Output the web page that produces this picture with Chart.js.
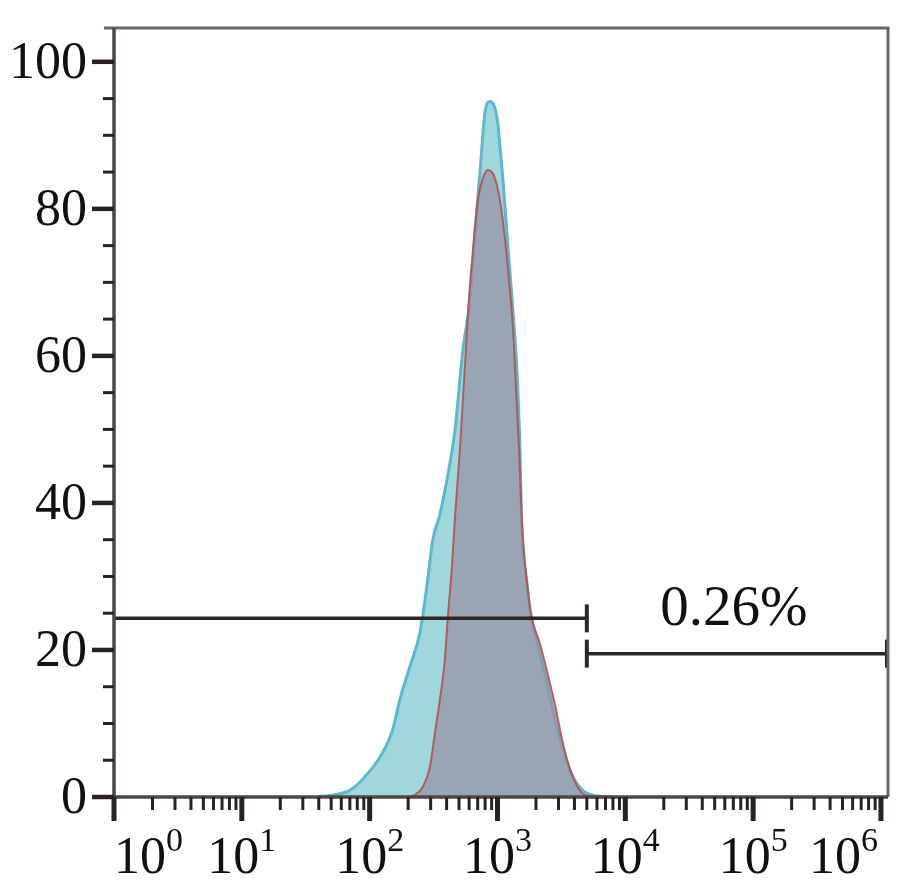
<!DOCTYPE html>
<html>
<head>
<meta charset="utf-8">
<script src="https://cdn.jsdelivr.net/npm/chart.js@4.4.1/dist/chart.umd.min.js"></script>
<style>
  html, body { margin: 0; padding: 0; background: #fff; }
</style>
</head>
<body>
<canvas id="histChart" width="916" height="888"></canvas>
<script>
// Histogram data (fluorescence intensity vs. count)
const cyanIntensity = [39, 53, 70, 87, 126, 151, 172, 206, 247, 280, 312, 354, 409, 465, 536, 608, 678, 729, 755, 798, 873, 955, 1009, 1047, 1104, 1208, 1324, 1422, 1500, 1528, 1556, 1702, 1799, 2004, 2443, 2825, 3266, 3908, 5035, 7621];
const cyanCount = [0, 0.3, 0.9, 2.3, 6.0, 9.1, 13.2, 17.7, 22.3, 28.6, 35.0, 38.4, 43.8, 49.9, 60.8, 67.6, 78.5, 84.9, 88.4, 93.1, 94.6, 93.7, 91.4, 88.4, 83.9, 74.8, 65.9, 57.7, 47.2, 40.4, 35.9, 29.1, 25.4, 21.6, 15.5, 10.5, 6.4, 2.7, 0.5, 0];

const redIntensity = [199, 225, 261, 296, 324, 354, 387, 409, 440, 465, 508, 536, 566, 597, 643, 703, 769, 841, 939, 1028, 1125, 1231, 1324, 1397, 1476, 1528, 1585, 1702, 1832, 2153, 2489, 2825, 3148, 3511, 3981, 4688, 5715];
const redCount = [0, 0.3, 1.4, 4.1, 8.7, 13.2, 18.6, 24.5, 31.3, 38.1, 47.2, 54.0, 60.8, 67.6, 74.4, 81.2, 84.2, 85.3, 84.5, 81.9, 77.1, 70.3, 63.5, 55.4, 47.2, 40.4, 35.0, 29.1, 24.8, 20.8, 16.5, 12.5, 8.4, 5.0, 2.3, 0.4, 0];

// Axes
const xMin = 1;
const xMax = 1135000;
const yMin = 0;
const yMax = 104.6;
const yTickValues = [0, 20, 40, 60, 80, 100];
const yMinorStep = 5;
const xDecades = [0, 1, 2, 3, 4, 5, 6];

// Gate markers
const gateStart = 1;
const gateSplit = 5000;
const gateEnd = 1114000;
const leftGateLevel = 24.3;
const rightGateLevel = 19.5;
const gateLabel = "0.26%";

const SERIF = '"Liberation Serif", "Times New Roman", serif';

function toPoints(xs, ys) {
  return xs.map((x, i) => ({ x: x, y: ys[i] }));
}

// Axes, ticks, frame and labels
const cytoAxes = {
  id: "cytoAxes",
  afterDatasetsDraw(chart) {
    const { ctx, chartArea: a } = chart;
    const x = chart.scales.x;
    const y = chart.scales.y;
    ctx.save();

    // top and right frame
    ctx.strokeStyle = "#6d6565";
    ctx.lineWidth = 3;
    ctx.beginPath();
    ctx.moveTo(a.left - 10, a.top);
    ctx.lineTo(a.right, a.top);
    ctx.lineTo(a.right, a.bottom);
    ctx.stroke();

    // left and bottom axes
    ctx.strokeStyle = "#4f4646";
    ctx.lineWidth = 3.5;
    ctx.beginPath();
    ctx.moveTo(a.left, a.top);
    ctx.lineTo(a.left, a.bottom);
    ctx.lineTo(a.right, a.bottom);
    ctx.stroke();

    ctx.strokeStyle = "#2a2222";

    // y minor ticks
    ctx.lineWidth = 3;
    for (let v = yMinorStep; v < yMax; v += yMinorStep) {
      if (v % 20 === 0) continue;
      const py = y.getPixelForValue(v);
      ctx.beginPath();
      ctx.moveTo(a.left - 11, py);
      ctx.lineTo(a.left, py);
      ctx.stroke();
    }
    // y major ticks + labels
    ctx.lineWidth = 4.5;
    ctx.fillStyle = "#111";
    ctx.font = "52px " + SERIF;
    ctx.textAlign = "right";
    ctx.textBaseline = "alphabetic";
    yTickValues.forEach((v) => {
      const py = y.getPixelForValue(v);
      ctx.beginPath();
      ctx.moveTo(a.left - 22, py);
      ctx.lineTo(a.left, py);
      ctx.stroke();
      ctx.fillText(String(v), a.left - 27, py + 16);
    });

    // x minor ticks
    ctx.lineWidth = 3;
    xDecades.forEach((k) => {
      for (let m = 2; m <= 9; m++) {
        const v = m * Math.pow(10, k);
        if (v > xMax) break;
        const px = x.getPixelForValue(v);
        ctx.beginPath();
        ctx.moveTo(px, a.bottom);
        ctx.lineTo(px, a.bottom + 13);
        ctx.stroke();
      }
    });
    // x major ticks + labels 10^k
    ctx.lineWidth = 5;
    ctx.textAlign = "left";
    xDecades.forEach((k) => {
      const px = x.getPixelForValue(Math.pow(10, k));
      ctx.beginPath();
      ctx.moveTo(px, a.bottom);
      ctx.lineTo(px, a.bottom + 24);
      ctx.stroke();

      ctx.font = "52px " + SERIF;
      const baseW = ctx.measureText("10").width;
      ctx.font = "34px " + SERIF;
      const supW = ctx.measureText(String(k)).width;
      const w = baseW + supW;
      let cx = px;
      cx = Math.max(cx, a.left + w / 2);
      cx = Math.min(cx, a.right - 10 - w / 2);
      const left = cx - w / 2;
      ctx.font = "52px " + SERIF;
      ctx.fillText("10", left, a.bottom + 76);
      ctx.font = "34px " + SERIF;
      ctx.fillText(String(k), left + baseW, a.bottom + 54);
    });

    // gate label
    const gx = (x.getPixelForValue(gateSplit) + x.getPixelForValue(gateEnd)) / 2;
    ctx.font = "57px " + SERIF;
    ctx.textAlign = "center";
    ctx.fillText(gateLabel, gx - 3, y.getPixelForValue(rightGateLevel) - 29);

    ctx.restore();
  },
};

new Chart(document.getElementById("histChart"), {
  type: "line",
  data: {
    datasets: [
      {
        label: "gate left",
        data: [{ x: gateStart, y: leftGateLevel }, { x: gateSplit, y: leftGateLevel }],
        borderColor: "#2e2624",
        borderWidth: 3.5,
        pointStyle: "line",
        rotation: 90,
        pointRadius: [0, 14],
        pointBorderWidth: 4,
        pointBorderColor: "#2e2624",
        fill: false,
        clip: false,
        order: 0,
      },
      {
        label: "gate right",
        data: [{ x: gateSplit, y: rightGateLevel }, { x: gateEnd, y: rightGateLevel }],
        borderColor: "#2e2624",
        borderWidth: 3.5,
        pointStyle: "line",
        rotation: 90,
        pointRadius: 14,
        pointBorderWidth: 4,
        pointBorderColor: "#2e2624",
        fill: false,
        clip: false,
        order: 0,
      },
      {
        label: "control",
        data: toPoints(redIntensity, redCount),
        borderColor: "rgba(186,72,78,0.85)",
        backgroundColor: "rgba(149,145,163,0.72)",
        borderWidth: 2,
        pointRadius: 0,
        fill: "origin",
        cubicInterpolationMode: "monotone",
        order: 1,
      },
      {
        label: "sample",
        data: toPoints(cyanIntensity, cyanCount),
        borderColor: "#5cb8cb",
        backgroundColor: "#a0d7dd",
        borderWidth: 3,
        pointRadius: 0,
        fill: "origin",
        cubicInterpolationMode: "monotone",
        order: 2,
      },
    ],
  },
  options: {
    responsive: false,
    animation: false,
    layout: { padding: { left: 114, top: 28, right: 28, bottom: 91 } },
    scales: {
      x: { type: "logarithmic", min: xMin, max: xMax, display: false },
      y: { type: "linear", min: yMin, max: yMax, display: false },
    },
    plugins: {
      legend: { display: false },
      tooltip: { enabled: false },
    },
  },
  plugins: [cytoAxes],
});
</script>
</body>
</html>
